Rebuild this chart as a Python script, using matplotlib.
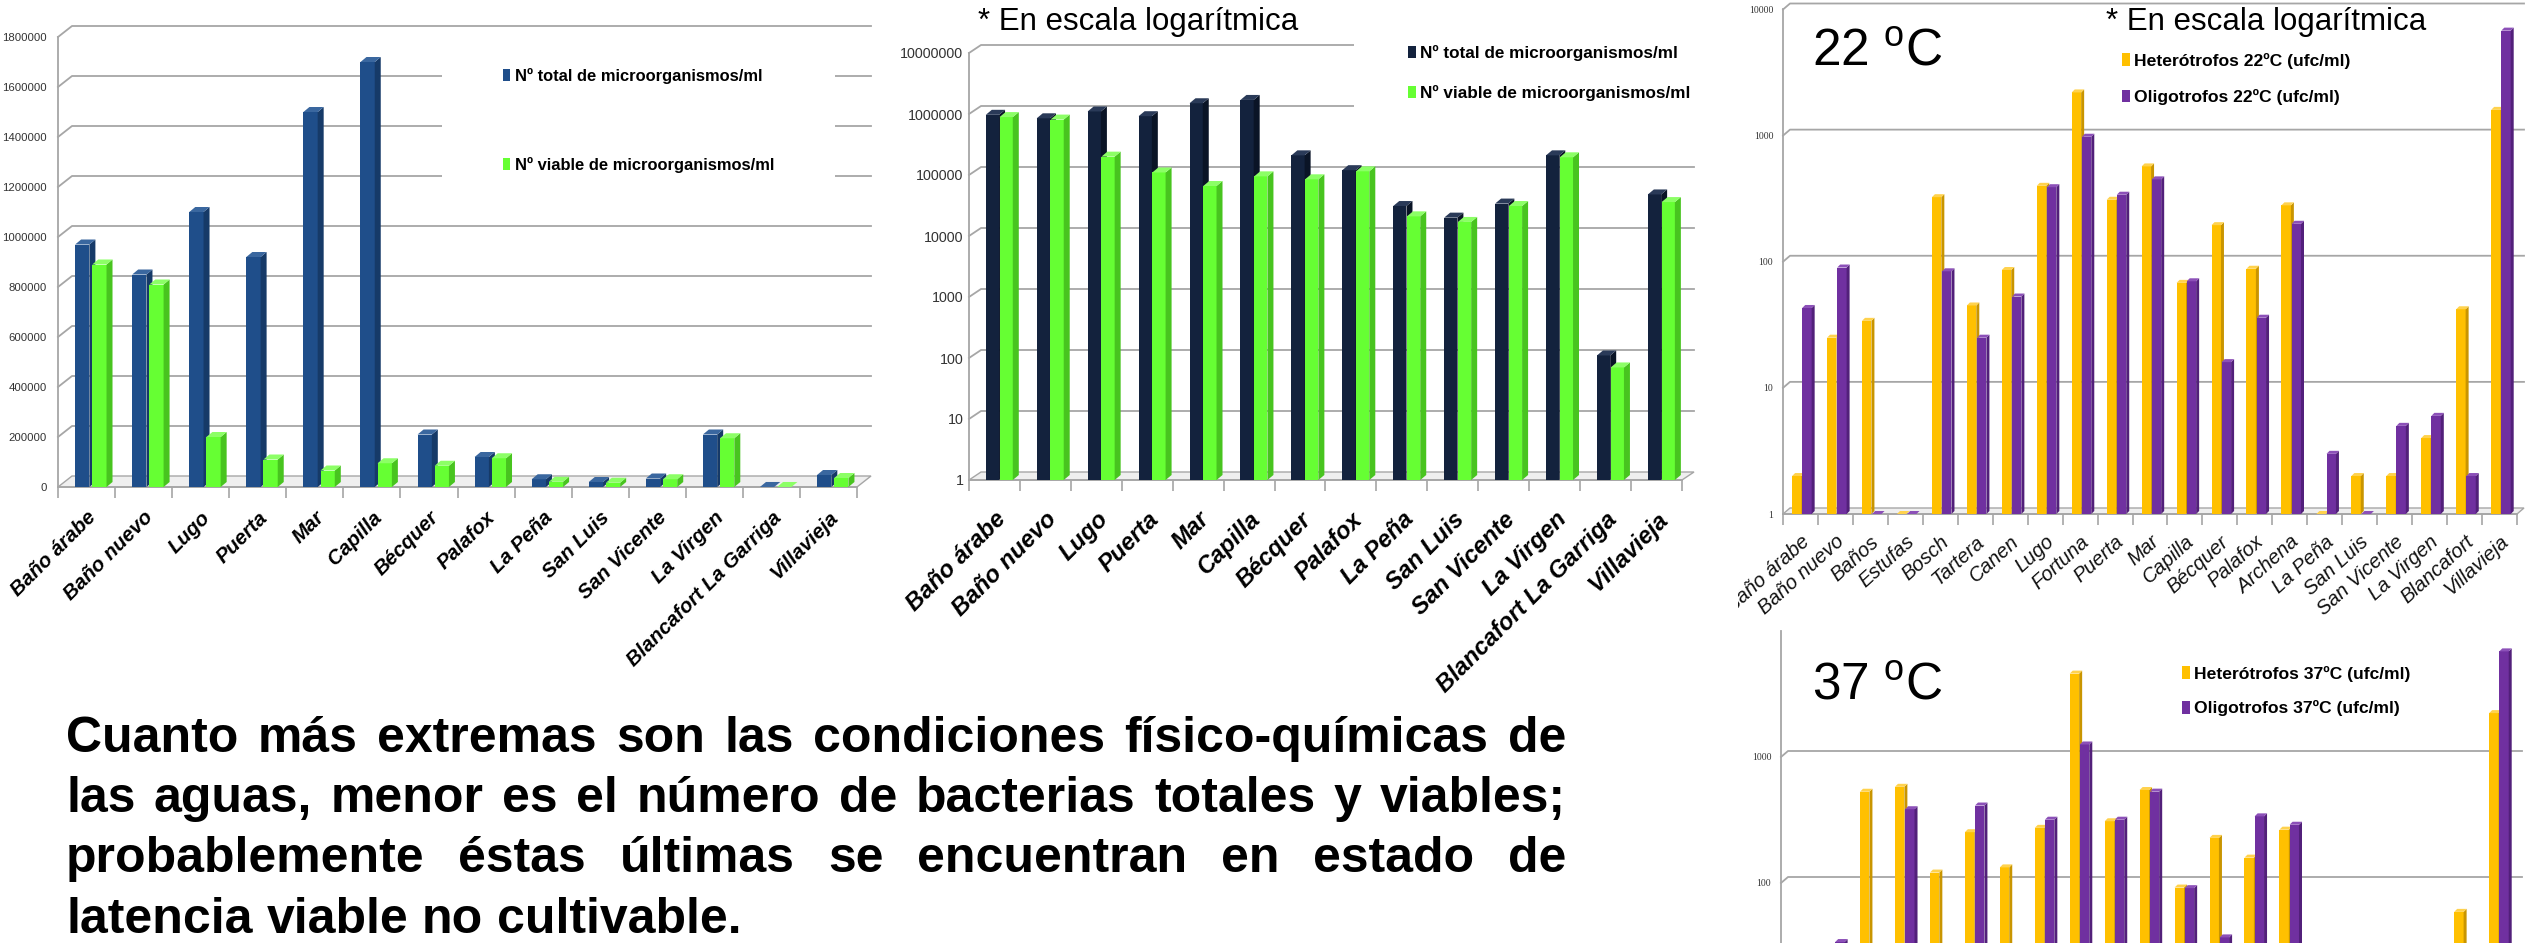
import numpy as np
import matplotlib
matplotlib.use('Agg')
import matplotlib.pyplot as plt
import matplotlib.font_manager as fm
from matplotlib.patches import Polygon, Rectangle, Patch
from matplotlib.transforms import Bbox, TransformedBbox
from matplotlib.ticker import NullLocator

W, H, DPI = 2543, 943, 100

# recuento total y viable por manantial
sitios = ['Baño árabe', 'Baño nuevo', 'Lugo', 'Puerta', 'Mar', 'Capilla', 'Bécquer',
          'Palafox', 'La Peña', 'San Luis', 'San Vicente', 'La Virgen',
          'Blancafort La Garriga', 'Villavieja']
total_ml = [970000, 850000, 1100000, 920000, 1500000, 1700000, 210000,
            120000, 31000, 20000, 34000, 210000, 110, 48000]
viable_ml = [890000, 810000, 200000, 110000, 66000, 95000, 85000,
             115000, 21000, 17000, 31000, 195000, 70, 36000]

# heterótrofos / oligotrofos (ufc/ml)
sitios_t = ['Baño árabe', 'Baño nuevo', 'Baños', 'Estufas', 'Bosch', 'Tartera', 'Canen',
            'Lugo', 'Fortuna', 'Puerta', 'Mar', 'Capilla', 'Bécquer', 'Palafox', 'Archena',
            'La Peña', 'San Luis', 'San Vicente', 'La Virgen', 'Blancafort', 'Villavieja']
het_22 = [2, 25, 34, 1, 325, 45, 86, 400, 2200, 310, 570, 68, 195, 88, 280,
          1, 2, 2, 4, 42, 1600]
oli_22 = [43, 90, 1, 1, 84, 25, 53, 390, 980, 340, 450, 70, 16, 36, 200,
          3, 1, 5, 6, 2, 6800]
het_37 = [3, 20, 530, 580, 121, 253, 133, 274, 4590, 309, 547, 92, 228, 159, 265,
          1, 2, 3, 4, 59, 2230]
oli_37 = [25, 34, 1, 385, 10, 412, 15, 318, 1257, 318, 531, 91, 37, 338, 290,
          2, 1, 4, 6, 2, 6890]

texto = ['Cuanto más extremas son las condiciones físico-químicas de',
         'las aguas, menor es el número de bacterias totales y viables;',
         'probablemente éstas últimas se encuentran en estado de',
         'latencia viable no cultivable.']

GRID = '#a6a6a6'
AZUL = ('#1f4e8a', '#163a68', '#3a679f')
NAVY = ('#13223d', '#0a1426', '#2a3a58')
VERDE = ('#66ff33', '#48c41f', '#8cff66')
AMAR = ('#ffc000', '#c99500', '#ffd24d')
MORA = ('#7030a0', '#52207a', '#8c50b8')


def have_font(name):
    try:
        fm.findfont(fm.FontProperties(family=name), fallback_to_default=False)
        return True
    except ValueError:
        return False


# cara estrecha tipo Calibri para las etiquetas de los gráficos
if have_font('Liberation Sans Narrow'):
    NARROW, K = 'Liberation Sans Narrow', 1.0
else:
    NARROW, K = 'Liberation Sans', 0.82

plt.rcParams['font.family'] = 'Liberation Sans'
plt.rcParams['mathtext.fontset'] = 'custom'
plt.rcParams['mathtext.rm'] = 'Liberation Sans'


def caja(x0, x1, y0, y1):
    # pixeles medidos desde arriba -> fracción de figura
    return [x0 / W, 1 - y1 / H, (x1 - x0) / W, (y1 - y0) / H]


def mover(ax, x, y, dx, dy):
    px, py = ax.transData.transform((x, y))
    return tuple(ax.transData.inverted().transform((px + dx, py + dy)))


def ejes(ax, n, etiquetas, fx, fy, yticks, ylabels, pad_x, pad_y, rot=45):
    for s in ['top', 'right']:
        ax.spines[s].set_visible(False)
    for s in ['left', 'bottom']:
        ax.spines[s].set_color(GRID)
        ax.spines[s].set_linewidth(1.3)
    ax.set_facecolor('none')
    ax.set_xlim(-0.5, n - 0.5)
    ax.set_xticks(range(n))
    ax.set_xticklabels(etiquetas, rotation=rot, ha='right', rotation_mode='anchor', **fx)
    ax.set_xticks(np.arange(n + 1) - 0.5, minor=True)
    ax.tick_params(axis='x', which='major', length=0, pad=pad_x)
    ax.tick_params(axis='x', which='minor', length=8, width=1.2, color=GRID)
    ax.set_yticks(yticks)
    ax.set_yticklabels(ylabels, **fy)
    ax.yaxis.set_minor_locator(NullLocator())
    ax.tick_params(axis='y', which='both', length=0, pad=pad_y)


def paredes(ax, marcas, pared, n):
    dx, dy = pared
    x0, x1 = -0.5, n - 0.5
    y0 = ax.get_ylim()[0]
    for t in marcas:
        b = mover(ax, x0, t, dx, dy)
        c = mover(ax, x1, t, dx, dy)
        ax.plot([x0, b[0], c[0]], [t, b[1], c[1]], color=GRID, lw=1.3,
                zorder=1, clip_on=False)
    piso = [(x0, y0), (x1, y0), mover(ax, x1, y0, dx, dy), mover(ax, x0, y0, dx, dy)]
    ax.add_patch(Polygon(piso, closed=True, fc='#efefef', ec=GRID, lw=1.0,
                         zorder=1.5, clip_on=False))


def barras3d(ax, xs, vals, ancho, colores, prof, base, z0):
    cara, lado, tapa = colores
    dx, dy = prof
    for i, (x, v) in enumerate(zip(xs, vals)):
        z = z0 + i * 0.1
        ax.bar(x, v - base, ancho, bottom=base, align='edge', color=cara,
               linewidth=0, zorder=z)
        x1 = x + ancho
        p_lado = [(x1, base), (x1, v), mover(ax, x1, v, dx, dy), mover(ax, x1, base, dx, dy)]
        p_tapa = [(x, v), (x1, v), mover(ax, x1, v, dx, dy), mover(ax, x, v, dx, dy)]
        ax.add_patch(Polygon(p_lado, closed=True, fc=lado, ec='none', zorder=z, clip_on=False))
        ax.add_patch(Polygon(p_tapa, closed=True, fc=tapa, ec='none', zorder=z, clip_on=False))


def leyenda(fig, etiquetas, colores, x, y, size, sep):
    hs = [Patch(facecolor=c, edgecolor='none') for c in colores]
    fig.legend(hs, etiquetas, loc='upper left', bbox_to_anchor=(x / W, 1 - y / H),
               frameon=False, borderpad=0, borderaxespad=0, handlelength=0.45,
               handleheight=0.75, handletextpad=0.25, labelspacing=sep,
               prop={'family': NARROW, 'weight': 'bold', 'size': size})


fig = plt.figure(figsize=(W / DPI, H / DPI), dpi=DPI, facecolor='white')

fx_bold = {'family': NARROW, 'weight': 'bold', 'style': 'italic', 'color': 'black'}
fx_fino = {'family': 'Liberation Sans', 'style': 'italic', 'size': 14.5, 'color': '#111111'}
fy_serif = {'family': 'Liberation Serif', 'size': 7, 'color': '#333333'}
n = len(sitios)
xc = np.arange(n)

# ---- recuento lineal ----
ax1 = fig.add_axes(caja(58, 857, 37, 487))
ax1.set_ylim(0, 1800000)
lin_ticks = list(range(0, 1800001, 200000))
ejes(ax1, n, sitios, dict(fx_bold, size=18 * K),
     {'family': NARROW, 'size': 10 * K, 'color': '#333333'},
     lin_ticks, [str(t) for t in lin_ticks], 15, 8)
paredes(ax1, lin_ticks[1:], (14, 11), n)
barras3d(ax1, xc - 0.2, total_ml, 0.25, AZUL, (6, 5), 0, 3)
barras3d(ax1, xc + 0.1, viable_ml, 0.25, VERDE, (6, 5), 0, 3.05)
fig.add_artist(Rectangle((442 / W, 1 - 200 / H), (835 - 442) / W, 150 / H,
                         transform=fig.transFigure, fc='white', ec='none', zorder=1))
leyenda(fig, ['Nº total de microorganismos/ml', 'Nº viable de microorganismos/ml'],
        [AZUL[0], VERDE[0]], 503, 68, 14.5 * K, 4.4)

# ---- recuento logarítmico ----
ax2 = fig.add_axes(caja(969, 1682, 53, 480))
ax2.set_yscale('log')
ax2.set_ylim(1, 1e7)
log7 = [10 ** k for k in range(8)]
ejes(ax2, n, sitios, dict(fx_bold, size=21 * K),
     {'family': NARROW, 'size': 12.5 * K, 'color': '#333333'},
     log7, [str(t) for t in log7], 20, 4)
paredes(ax2, log7[1:], (12, 8), n)
barras3d(ax2, xc - 0.17, total_ml, 0.26, NAVY, (6, 5), 1, 3)
barras3d(ax2, xc + 0.1, viable_ml, 0.26, VERDE, (6, 5), 1, 3.05)
fig.add_artist(Rectangle((1354 / W, 1 - 116 / H), (1705 - 1354) / W, 82 / H,
                         transform=fig.transFigure, fc='white', ec='none', zorder=1))
leyenda(fig, ['Nº total de microorganismos/ml', 'Nº viable de microorganismos/ml'],
        [NAVY[0], VERDE[0]], 1408, 45, 15 * K, 1.4)
fig.text(978 / W, 1 - 30 / H, '* En escala logarítmica', fontsize=22.5, va='baseline')

# ---- heterótrofos y oligotrofos, 22 ºC ----
nt = len(sitios_t)
xt = np.arange(nt)
log4 = [1, 10, 100, 1000, 10000]
ax3 = fig.add_axes(caja(1783, 2517, 9.5, 514))
ax3.set_yscale('log')
ax3.set_ylim(1, 10000)
ejes(ax3, nt, sitios_t, fx_fino, fy_serif, log4, [str(t) for t in log4], 13, 7, rot=42)
paredes(ax3, log4[1:], (7, 6), nt)
barras3d(ax3, xt - 0.24, het_22, 0.27, AMAR, (3, 3), 1, 3)
barras3d(ax3, xt + 0.05, oli_22, 0.27, MORA, (3, 3), 1, 3.05)
primera = ax3.get_xticklabels()[0]
primera.set_clip_box(TransformedBbox(Bbox.from_extents(1738 / W, 0, 1, 1), fig.transFigure))
primera.set_clip_on(True)
leyenda(fig, ['Heterótrofos 22ºC (ufc/ml)', 'Oligotrofos 22ºC (ufc/ml)'],
        [AMAR[0], MORA[0]], 2122, 53, 12.6, 1.15)
fig.text(1812 / W, 1 - 66 / H, '22 $^{\\mathrm{o}}$C', fontsize=37, va='baseline')
fig.text(2106 / W, 1 - 30 / H, '* En escala logarítmica', fontsize=22.5, va='baseline')

# ---- heterótrofos y oligotrofos, 37 ºC (parte inferior recortada) ----
ax4 = fig.add_axes(caja(1781, 2515, 631, 1135))
ax4.set_yscale('log')
ax4.set_ylim(1, 10000)
ejes(ax4, nt, [''] * nt, fx_fino, fy_serif, [100, 1000], ['100', '1000'], 13, 7)
paredes(ax4, [100, 1000], (7, 6), nt)
barras3d(ax4, xt - 0.24, het_37, 0.27, AMAR, (3, 3), 1, 3)
barras3d(ax4, xt + 0.05, oli_37, 0.27, MORA, (3, 3), 1, 3.05)
leyenda(fig, ['Heterótrofos 37ºC (ufc/ml)', 'Oligotrofos 37ºC (ufc/ml)'],
        [AMAR[0], MORA[0]], 2182, 666, 12.6, 1.05)
fig.text(1812 / W, 1 - 700 / H, '37 $^{\\mathrm{o}}$C', fontsize=37, va='baseline')

# ---- párrafo justificado ----
renderer = fig.canvas.get_renderer()
base_px = [752, 812, 872, 933]
x_ini, x_fin = 66, 1566
for k, (linea, yb) in enumerate(zip(texto, base_px)):
    palabras = linea.split(' ')
    arts = [fig.text(0, 1 - yb / H, p, fontsize=36, fontweight='bold', va='baseline')
            for p in palabras]
    anchos = [a.get_window_extent(renderer).width for a in arts]
    if k < len(texto) - 1:
        hueco = (x_fin - x_ini - sum(anchos)) / (len(palabras) - 1)
    else:
        hueco = 36 * DPI / 72 * 0.278
    x = x_ini
    for a, w in zip(arts, anchos):
        a.set_x(x / W)
        x += w + hueco

fig.savefig('out.png', dpi=DPI, facecolor='white')
